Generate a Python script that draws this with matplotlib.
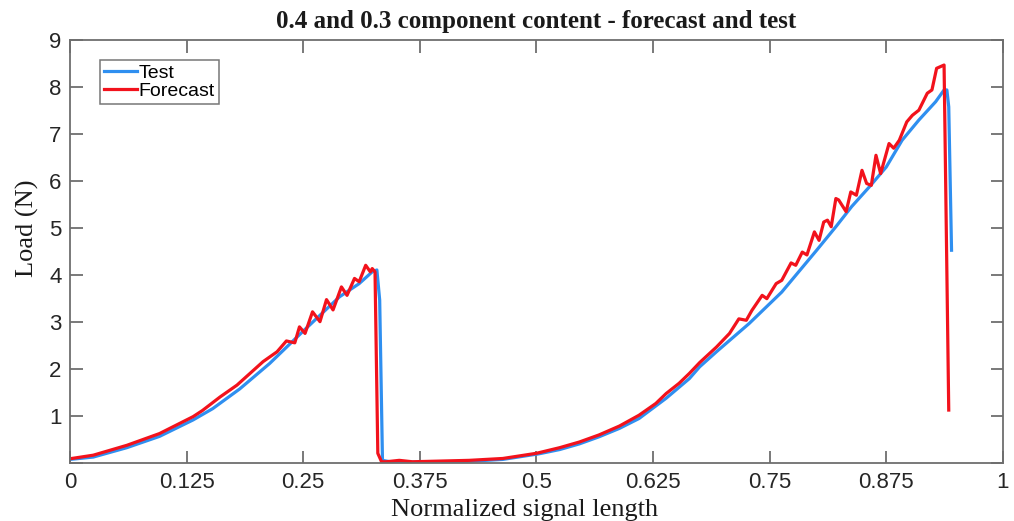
import matplotlib
matplotlib.use("Agg")
import matplotlib.pyplot as plt

# measured load vs. normalized signal length
test_x = [0.0, 0.025, 0.061, 0.096, 0.132, 0.153, 0.182, 0.214, 0.249, 0.289,
          0.310, 0.324, 0.329, 0.332, 0.335, 0.343, 0.375, 0.428, 0.464, 0.503,
          0.525, 0.546, 0.567, 0.589, 0.610, 0.639, 0.664, 0.675, 0.693, 0.728,
          0.763, 0.800, 0.821, 0.838, 0.857, 0.875, 0.892, 0.910, 0.928, 0.937,
          0.940, 0.942, 0.945]
test_y = [0.08, 0.13, 0.33, 0.57, 0.92, 1.16, 1.58, 2.12, 2.79, 3.54,
          3.82, 4.07, 4.11, 3.47, 0.06, 0.03, 0.02, 0.04, 0.08, 0.20,
          0.29, 0.41, 0.56, 0.74, 0.95, 1.38, 1.80, 2.05, 2.37, 2.97,
          3.64, 4.52, 5.03, 5.46, 5.88, 6.30, 6.87, 7.30, 7.69, 7.94,
          7.94, 7.58, 4.53]

# model forecast
fc_x = [0.002, 0.025, 0.061, 0.096, 0.132, 0.142, 0.161, 0.179, 0.193, 0.207,
        0.222, 0.232, 0.241, 0.246, 0.252, 0.260, 0.268, 0.275, 0.282, 0.291,
        0.297, 0.305, 0.310, 0.317, 0.322, 0.324, 0.327, 0.330, 0.334, 0.339,
        0.353, 0.367, 0.428, 0.464, 0.500, 0.525, 0.546, 0.567, 0.589, 0.610,
        0.628, 0.639, 0.653, 0.664, 0.675, 0.693, 0.707, 0.717, 0.725, 0.731,
        0.742, 0.747, 0.757, 0.763, 0.773, 0.778, 0.785, 0.790, 0.798, 0.803,
        0.808, 0.812, 0.816, 0.821, 0.824, 0.832, 0.837, 0.843, 0.849, 0.854,
        0.859, 0.864, 0.869, 0.878, 0.883, 0.889, 0.897, 0.903, 0.910, 0.919,
        0.924, 0.929, 0.937, 0.942]
fc_y = [0.10, 0.17, 0.38, 0.63, 0.99, 1.12, 1.41, 1.66, 1.91, 2.16,
        2.37, 2.60, 2.56, 2.90, 2.76, 3.22, 3.01, 3.48, 3.26, 3.75,
        3.57, 3.93, 3.86, 4.21, 4.07, 4.14, 4.07, 0.21, 0.03, 0.03,
        0.06, 0.03, 0.06, 0.10, 0.21, 0.33, 0.45, 0.60, 0.79, 1.02,
        1.27, 1.48, 1.70, 1.91, 2.14, 2.47, 2.76, 3.07, 3.04, 3.25,
        3.57, 3.50, 3.82, 3.89, 4.26, 4.21, 4.49, 4.43, 4.92, 4.74,
        5.13, 5.17, 5.03, 5.63, 5.60, 5.35, 5.77, 5.70, 6.23, 5.95,
        5.91, 6.55, 6.16, 6.80, 6.70, 6.87, 7.26, 7.40, 7.51, 7.87,
        7.94, 8.40, 8.47, 1.13]

x_ticks = [0, 0.125, 0.25, 0.375, 0.5, 0.625, 0.75, 0.875, 1]
x_tick_labels = ["0", "0.125", "0.25", "0.375", "0.5", "0.625", "0.75", "0.875", "1"]
y_ticks = [0, 1, 2, 3, 4, 5, 6, 7, 8, 9]
y_tick_labels = ["", "1", "2", "3", "4", "5", "6", "7", "8", "9"]

fig = plt.figure(figsize=(10.14, 5.21), dpi=100)
ax = fig.add_axes([0.069, 0.111, 0.920, 0.812])

ax.plot(test_x, test_y, color="#2f8ff0", lw=2.3, label="Test",
        solid_joinstyle="round")
ax.plot(fc_x, fc_y, color="#f2121c", lw=2.3, label="Forecast",
        solid_joinstyle="round")

ax.set_xlim(0, 1)
ax.set_ylim(0, 9)
ax.set_xticks(x_ticks)
ax.set_xticklabels(x_tick_labels)
ax.set_yticks(y_ticks)
ax.set_yticklabels(y_tick_labels)

for lab in ax.get_xticklabels() + ax.get_yticklabels():
    lab.set_family("Liberation Sans")
    lab.set_fontsize(16)
    lab.set_color("#262626")

ax.tick_params(direction="in", length=9, width=1.1, color="#555555",
               top=True, right=True, pad=6)
for sp in ax.spines.values():
    sp.set_color("#6e6e6e")
    sp.set_linewidth(1.3)

ax.set_title("0.4 and 0.3 component content - forecast and test",
             family="Liberation Serif", fontweight="bold", fontsize=18,
             color="#1a1a1a", pad=9)
ax.set_xlabel("Normalized signal length", family="Liberation Serif",
              fontsize=19, color="#1a1a1a", labelpad=0)
ax.xaxis.set_label_coords(0.487, -0.085)
ax.set_ylabel("Load (N)", family="Liberation Serif", fontsize=19,
              color="#1a1a1a")
ax.yaxis.set_label_coords(-0.033, 0.556)

leg = ax.legend(loc="upper left", bbox_to_anchor=(0.032, 0.953),
                prop={"family": "Liberation Sans", "size": 14},
                frameon=True, fancybox=False, handlelength=1.7,
                handletextpad=0.1, borderpad=0.2, labelspacing=0.05,
                borderaxespad=0)
leg.get_frame().set_edgecolor("#555555")
leg.get_frame().set_linewidth(1.1)

fig.savefig("out.png", dpi=100)
